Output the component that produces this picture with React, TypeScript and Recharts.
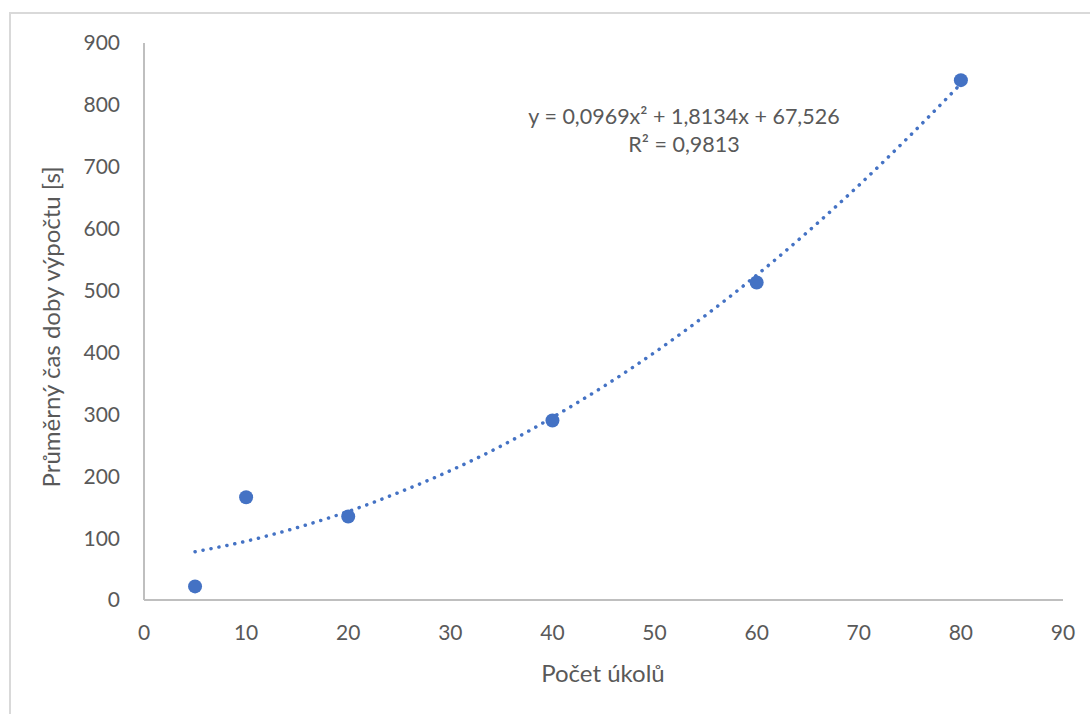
import React from "react";
import {
  ComposedChart,
  Scatter,
  Line,
  XAxis,
  YAxis,
} from "recharts";

// measured points (Počet úkolů vs. průměrný čas)
const taskCounts = [5, 10, 20, 40, 60, 80];
const avgTimes = [22, 166, 135, 290, 513, 840];

// polynomial trendline
const trendX = [5, 10, 15, 20, 25, 30, 35, 40, 45, 50, 55, 60, 65, 70, 75, 80];
const trendY = [78, 95, 117, 143, 174, 209, 249, 295, 345, 400, 460, 525, 595, 670, 750, 834];

const xTicks = [0, 10, 20, 30, 40, 50, 60, 70, 80, 90];
const yTicks = [0, 100, 200, 300, 400, 500, 600, 700, 800, 900];

const xTitle = "Počet úkolů";
const yTitle = "Průměrný čas doby výpočtu [s]";
const equation = "y = 0,0969x² + 1,8134x + 67,526";
const rSquared = "R² = 0,9813";

const points = taskCounts.map((x, i) => ({ x, y: avgTimes[i] }));
const trend = trendX.map((x, i) => ({ x, y: trendY[i] }));

const BLUE = "#4472C4";
const TEXT = "#595959";
const FONT = "Lato, 'Open Sans', sans-serif";

export default function App() {
  return (
    <div
      style={{
        position: "absolute",
        left: 0,
        top: 0,
        width: 1090,
        height: 714,
        background: "#fff",
        fontFamily: FONT,
      }}
    >
      <div
        style={{
          position: "absolute",
          left: 9,
          top: 12,
          right: 0,
          bottom: 0,
          borderTop: "2px solid #d9d9d9",
          borderLeft: "2px solid #d9d9d9",
        }}
      />
      <ComposedChart
        width={1090}
        height={714}
        margin={{ top: 43, right: 27, bottom: 0, left: 0 }}
        style={{ position: "absolute", left: 0, top: 0 }}
      >
        <XAxis
          type="number"
          dataKey="x"
          domain={[0, 90]}
          ticks={xTicks}
          interval={0}
          height={114}
          tickLine={false}
          axisLine={{ stroke: "#bfbfbf", strokeWidth: 2 }}
          tick={{ fill: TEXT, fontSize: 21, fontFamily: FONT }}
          tickMargin={19}
          label={{
            content: () => (
              <text
                x={603}
                y={672}
                textAnchor="middle"
                dominantBaseline="central"
                fill={TEXT}
                fontSize={24}
                fontFamily={FONT}
              >
                {xTitle}
              </text>
            ),
          }}
        />
        <YAxis
          type="number"
          dataKey="y"
          domain={[0, 900]}
          ticks={yTicks}
          interval={0}
          width={144}
          tickLine={false}
          axisLine={{ stroke: "#bfbfbf", strokeWidth: 2 }}
          tick={{ fill: TEXT, fontSize: 21, fontFamily: FONT }}
          tickMargin={18}
          label={{
            content: () => (
              <text
                x={50}
                y={327}
                transform="rotate(-90 50 327)"
                textAnchor="middle"
                dominantBaseline="central"
                fill={TEXT}
                fontSize={24}
                fontFamily={FONT}
              >
                {yTitle}
              </text>
            ),
          }}
        />
        <Line
          data={trend}
          dataKey="y"
          type="monotone"
          stroke={BLUE}
          strokeWidth={3.5}
          strokeDasharray="0.1 8"
          strokeLinecap="round"
          dot={false}
          activeDot={false}
          isAnimationActive={false}
        />
        <Scatter
          data={points}
          dataKey="y"
          fill={BLUE}
          isAnimationActive={false}
          shape={(p: any) => <circle cx={p.cx} cy={p.cy} r={7} fill={BLUE} />}
        />
      </ComposedChart>
      <div
        style={{
          position: "absolute",
          left: 484,
          width: 400,
          top: 102,
          textAlign: "center",
          color: TEXT,
          fontSize: 21.5,
          lineHeight: "28px",
        }}
      >
        <div>{equation}</div>
        <div>{rSquared}</div>
      </div>
    </div>
  );
}
